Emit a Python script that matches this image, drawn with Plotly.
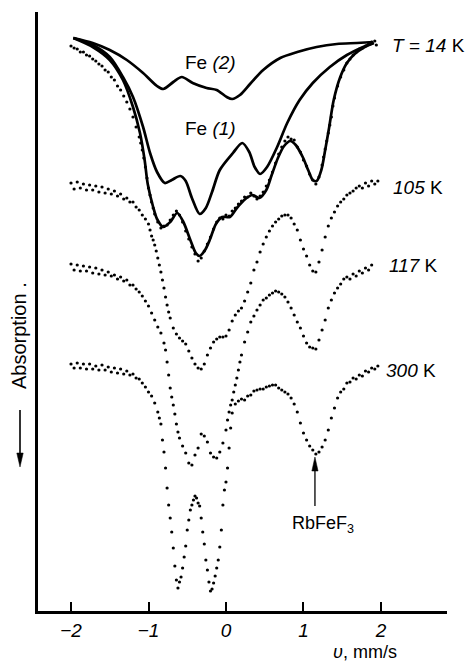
import plotly.graph_objects as go

# ---------------- data (velocity in mm/s, absorption offset in arbitrary units, increasing downward) -------------
spec_14K = [(-2.00,46),(-1.96,48),(-1.92,49),(-1.88,52),(-1.84,52),(-1.80,55),(-1.76,56),(-1.72,59),(-1.68,61),
            (-1.64,64),(-1.60,66),(-1.56,70),(-1.52,72),(-1.48,77),(-1.44,80),(-1.40,86),(-1.36,90),(-1.32,96),
            (-1.28,102),(-1.24,109),(-1.20,117),(-1.16,127),(-1.12,137),(-1.10,143),(-1.08,150),(-1.06,158),
            (-1.04,167),(-1.02,178),(-1.00,188),(-0.98,195),(-0.96,202),(-0.94,208),(-0.92,214),(-0.88,222),
            (-0.84,228),(-0.80,226),(-0.76,225),(-0.72,220),(-0.68,215),(-0.64,211),(-0.60,215),(-0.56,222),
            (-0.52,231),(-0.48,239),(-0.44,247),(-0.40,254),(-0.36,261),(-0.32,258),(-0.28,251),(-0.24,244),
            (-0.20,237),(-0.16,229),(-0.12,222),(-0.08,218),(-0.04,219),(0.00,215),(0.04,216),(0.08,211),
            (0.12,208),(0.16,204),(0.20,201),(0.24,197),(0.28,197),(0.32,193),(0.36,196),(0.40,199),(0.44,196),
            (0.48,192),(0.52,186),(0.56,180),(0.60,172),(0.64,163),(0.68,154),(0.72,147),(0.76,141),(0.80,137),
            (0.84,139),(0.88,140),(0.92,147),(0.96,152),(1.00,160),(1.04,166),(1.08,174),(1.12,180),(1.16,184),
            (1.20,177),(1.24,165),(1.26,157),(1.28,149),(1.30,141),(1.32,133),(1.34,125),(1.36,117),(1.38,106),
            (1.40,98),(1.44,86),(1.48,77),(1.52,70),(1.56,63),(1.60,59),(1.64,55),(1.68,52),(1.72,49),(1.76,48),
            (1.80,46),(1.84,44),(1.88,42),(1.92,41),(1.94,45)]

spec_105K = [(-2.00,183),(-1.96,189),(-1.92,182),(-1.88,188),(-1.84,184),(-1.80,190),(-1.76,185),(-1.72,190),
             (-1.68,186),(-1.64,192),(-1.60,187),(-1.56,193),(-1.52,189),(-1.48,194),(-1.44,191),(-1.40,196),
             (-1.36,194),(-1.32,199),(-1.28,198),(-1.24,202),(-1.20,202),(-1.16,207),(-1.12,210),(-1.08,215),
             (-1.04,219),(-1.00,224),(-0.98,230),(-0.96,236),(-0.94,240),(-0.92,245),(-0.90,251),(-0.88,258),
             (-0.86,265),(-0.84,272),(-0.82,280),(-0.80,288),(-0.78,297),(-0.76,305),(-0.74,312),(-0.72,318),
             (-0.68,328),(-0.64,334),(-0.60,338),(-0.56,341),(-0.52,344),(-0.48,351),(-0.44,358),(-0.40,364),
             (-0.36,368),(-0.32,369),(-0.28,364),(-0.24,355),(-0.20,348),(-0.16,342),(-0.12,339),(-0.08,337),
             (-0.04,337),(0.00,336),(0.04,330),(0.08,321),(0.12,315),(0.16,311),(0.20,308),(0.24,301),
             (0.28,292),(0.32,283),(0.36,270),(0.40,262),(0.44,252),(0.48,244),(0.52,237),(0.56,231),(0.60,226),
             (0.64,222),(0.68,219),(0.72,216),(0.76,215),(0.80,215),(0.84,218),(0.88,224),(0.92,230),(0.96,240),
             (1.00,249),(1.04,256),(1.08,265),(1.12,271),(1.16,272),(1.20,262),(1.24,250),(1.28,237),(1.32,226),
             (1.36,218),(1.40,212),(1.44,206),(1.48,202),(1.52,199),(1.56,195),(1.60,193),(1.64,191),(1.68,188),
             (1.72,186),(1.76,188),(1.80,183),(1.84,186),(1.88,181),(1.92,184),(1.96,181)]

spec_117K = [(-2.00,264),(-1.96,270),(-1.92,265),(-1.88,271),(-1.84,266),(-1.80,271),(-1.76,267),(-1.72,273),
             (-1.68,268),(-1.64,274),(-1.60,270),(-1.56,275),(-1.52,272),(-1.48,276),(-1.44,275),(-1.40,279),
             (-1.36,277),(-1.32,281),(-1.28,280),(-1.24,285),(-1.20,285),(-1.16,289),(-1.12,292),(-1.08,296),
             (-1.04,301),(-1.00,306),(-0.96,313),(-0.92,320),(-0.88,327),(-0.84,333),(-0.80,343),(-0.78,350),
             (-0.76,362),(-0.74,375),(-0.72,388),(-0.70,397),(-0.68,405),(-0.66,414),(-0.64,424),(-0.62,432),
             (-0.60,438),(-0.56,446),(-0.52,453),(-0.48,463),(-0.44,465),(-0.40,455),(-0.36,448),(-0.32,434),
             (-0.28,436),(-0.24,442),(-0.20,453),(-0.16,457),(-0.12,458),(-0.08,452),(-0.04,443),(0.00,430),
             (0.02,420),(0.04,412),(0.06,405),(0.08,400),(0.10,392),(0.12,385),(0.14,378),(0.16,370),(0.18,362),
             (0.20,355),(0.24,342),(0.28,332),(0.32,322),(0.36,316),(0.40,310),(0.44,305),(0.48,300),(0.52,298),
             (0.56,295),(0.60,293),(0.64,291),(0.68,292),(0.72,294),(0.76,297),(0.80,302),(0.84,308),(0.88,315),
             (0.92,322),(0.96,328),(1.00,336),(1.04,343),(1.08,347),(1.12,348),(1.16,349),(1.20,340),(1.24,330),
             (1.28,320),(1.32,308),(1.36,300),(1.40,293),(1.44,288),(1.48,284),(1.52,279),(1.56,277),(1.60,279),
             (1.64,274),(1.68,276),(1.72,271),(1.76,273),(1.80,268),(1.84,270),(1.88,265)]

spec_300K = [(-2.00,364),(-1.96,368),(-1.92,363),(-1.88,368),(-1.84,364),(-1.80,369),(-1.76,364),(-1.72,369),
             (-1.68,366),(-1.64,370),(-1.60,365),(-1.56,370),(-1.52,367),(-1.48,372),(-1.44,368),(-1.40,373),
             (-1.36,369),(-1.32,374),(-1.28,371),(-1.24,375),(-1.20,374),(-1.16,378),(-1.12,379),(-1.08,383),
             (-1.04,387),(-1.00,392),(-0.96,396),(-0.92,403),(-0.88,412),(-0.86,418),(-0.84,424),(-0.82,440),
             (-0.80,452),(-0.78,468),(-0.76,488),(-0.74,505),(-0.72,518),(-0.70,532),(-0.68,548),(-0.66,566),
             (-0.64,580),(-0.62,588),(-0.60,582),(-0.58,577),(-0.56,568),(-0.54,557),(-0.52,546),(-0.50,530),
             (-0.48,520),(-0.46,510),(-0.44,505),(-0.42,500),(-0.40,496),(-0.38,498),(-0.36,503),(-0.34,506),
             (-0.32,518),(-0.30,532),(-0.28,544),(-0.26,560),(-0.24,570),(-0.22,582),(-0.20,591),(-0.18,589),
             (-0.16,583),(-0.14,576),(-0.12,568),(-0.10,560),(-0.08,547),(-0.06,530),(-0.04,505),(-0.02,490),
             (0.00,482),(0.02,468),(0.04,448),(0.06,428),(0.08,413),(0.12,404),(0.16,401),(0.20,399),(0.24,400),
             (0.28,396),(0.32,395),(0.36,391),(0.40,390),(0.44,389),(0.48,389),(0.52,387),(0.56,386),(0.60,385),
             (0.64,385),(0.68,388),(0.72,390),(0.76,392),(0.80,394),(0.84,398),(0.88,404),(0.92,412),(0.96,423),
             (1.00,433),(1.04,440),(1.08,446),(1.12,450),(1.16,454),(1.20,452),(1.24,447),(1.28,440),(1.32,430),
             (1.36,418),(1.40,408),(1.44,398),(1.48,392),(1.52,389),(1.56,383),(1.60,382),(1.64,378),(1.68,379),
             (1.72,375),(1.76,376),(1.80,371),(1.84,372),(1.88,368),(1.92,369),(1.96,366)]

fit_total_14K = [(-1.97,38),(-1.72,47),(-1.50,60),(-1.33,80),(-1.20,107),(-1.11,133),(-1.05,160),(-1.01,184),
                 (-0.94,207),(-0.89,219),(-0.81,227),(-0.72,222),(-0.63,213),(-0.55,222),(-0.46,240),(-0.39,253),
                 (-0.34,256),(-0.27,250),(-0.21,240),(-0.13,224),(-0.05,217),(0.05,217),(0.14,208),(0.25,199),
                 (0.34,195),(0.43,198),(0.52,190),(0.59,175),(0.67,158),(0.75,146),(0.83,141),(0.90,145),
                 (0.99,157),(1.06,170),(1.12,180),(1.17,181),(1.23,170),(1.28,150),(1.33,128),(1.39,100),
                 (1.47,78),(1.56,63),(1.66,54),(1.79,47),(1.91,43)]

fit_Fe1 = [(-1.97,38),(-1.72,45),(-1.50,57),(-1.33,77),(-1.20,97),(-1.07,127),(-0.98,153),(-0.89,172),
           (-0.79,183),(-0.70,180),(-0.59,176),(-0.52,181),(-0.44,198),(-0.34,214),(-0.26,208),(-0.18,192),
           (-0.08,170),(0.09,153),(0.21,143),(0.30,152),(0.37,167),(0.44,174),(0.53,167),(0.66,147),
           (0.79,123),(0.95,100),(1.12,83),(1.34,67),(1.56,55),(1.77,47),(1.90,43)]

fit_Fe2 = [(-1.97,38),(-1.72,43),(-1.50,50),(-1.28,60),(-1.07,73),(-0.89,86),(-0.81,89),(-0.68,82),
           (-0.57,77),(-0.43,83),(-0.25,88),(-0.12,90),(0.01,97),(0.08,99),(0.18,95),(0.31,84),(0.48,70),
           (0.70,58),(0.92,52),(1.17,47),(1.43,44),(1.69,43),(1.90,42)]

tick_vals = [-2, -1, 0, 1, 2]
tick_text = ["<i>\u22122</i>", "<i>\u22121</i>", "<i>0</i>", "<i>1</i>", "<i>2</i>"]
rbfef3_line_v = 1.148      # velocity of the RbFeF3 impurity line (mm/s)

# ---------------- figure ----------------
FONT = "Liberation Sans, Arial, sans-serif"
fig = go.Figure()

for spec in [spec_14K, spec_105K, spec_117K, spec_300K]:
    v, a = zip(*spec)
    fig.add_trace(go.Scatter(x=list(v), y=list(a), mode="markers",
                             marker=dict(size=3.2, color="black"), hoverinfo="skip"))

for fit in [fit_Fe2, fit_Fe1, fit_total_14K]:
    v, a = zip(*fit)
    fig.add_trace(go.Scatter(x=list(v), y=list(a), mode="lines",
                             line=dict(color="black", width=2.7, shape="spline", smoothing=0.8),
                             hoverinfo="skip"))

L, R, T, B = 38, 23, 12, 54
W, H = 470, 665
pw, ph = W - L - R, H - T - B


def px(x):
    return (x - L) / pw


def py(y):
    return (H - B - y) / ph


ann = []


def label(x, y, text, size=18, xanchor="left"):
    ann.append(dict(x=px(x), y=py(y), xref="paper", yref="paper", text=text, showarrow=False,
                    xanchor=xanchor, yanchor="middle", font=dict(family=FONT, size=size, color="black")))


label(390, 45, "<i>T</i> = <i>14</i> K", 19)
label(391, 187, "<i>105</i> K", 19)
label(387, 265, "<i>117</i> K", 19)
label(384, 370, "<i>300</i> K", 19)
label(183, 62, "Fe <i>(2)</i>", 19)
label(183, 128, "Fe <i>(1)</i>", 19)
label(290, 524, "RbFeF<sub>3</sub>", 18)
label(331, 652, "<i>\u03c5</i>, mm/s", 18)

ann.append(dict(x=px(19), y=py(336), xref="paper", yref="paper", text="Absorption .", showarrow=False,
                textangle=-90, xanchor="center", yanchor="middle",
                font=dict(family=FONT, size=20, color="black")))

# arrows drawn as shapes
ax_x = px(20)
hw = 3.2 / pw
shapes = [
    dict(type="line", xref="paper", yref="paper", x0=ax_x, x1=ax_x, y0=py(410), y1=py(455),
         line=dict(color="black", width=1.6)),
    dict(type="path", xref="paper", yref="paper",
         path=f"M {ax_x} {py(467)} L {ax_x - hw} {py(453)} L {ax_x + hw} {py(453)} Z",
         fillcolor="black", line=dict(color="black", width=0.5)),
    dict(type="line", xref="x", yref="y", x0=rbfef3_line_v, x1=rbfef3_line_v, y0=506, y1=468,
         line=dict(color="black", width=1.3)),
    dict(type="path", xref="x", yref="y",
         path=f"M {rbfef3_line_v} 457 L {rbfef3_line_v - 0.04} 471 L {rbfef3_line_v + 0.04} 471 Z",
         fillcolor="black", line=dict(color="black", width=0.5)),
]

fig.update_layout(
    width=W, height=H, margin=dict(l=L, r=R, t=T, b=B),
    paper_bgcolor="white", plot_bgcolor="white", showlegend=False,
    annotations=ann, shapes=shapes,
    xaxis=dict(range=[-2.426, 2.852], showline=True, linewidth=2.5, linecolor="black",
               ticks="inside", ticklen=9, tickwidth=2, tickcolor="black",
               tickvals=tick_vals, ticktext=tick_text, showgrid=False, zeroline=False,
               tickfont=dict(family=FONT, size=19, color="black")),
    yaxis=dict(range=[611, 12], showline=True, linewidth=3, linecolor="black",
               showticklabels=False, ticks="", showgrid=False, zeroline=False),
)

fig.write_html("out.html", config={"displayModeBar": False},
               post_script="document.body.style.margin='0px';")
